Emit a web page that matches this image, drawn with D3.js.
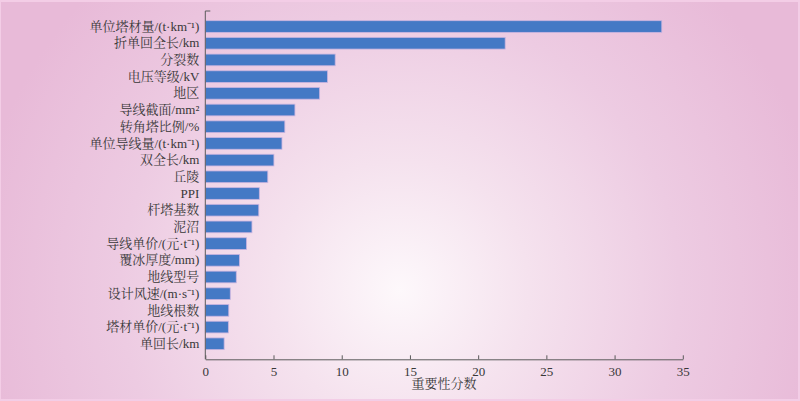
<!DOCTYPE html>
<html><head><meta charset="utf-8">
<script src="https://cdn.jsdelivr.net/npm/d3@7"></script>
<style>html,body{margin:0;padding:0;overflow:hidden;background:#e9bcd9}</style>
</head><body>
<script>
const categories = ["单位塔材量/(t·km⁻¹)","折单回全长/km","分裂数","电压等级/kV","地区","导线截面/mm²","转角塔比例/%","单位导线量/(t·km⁻¹)","双全长/km","丘陵","PPI","杆塔基数","泥沼","导线单价/(元·t⁻¹)","覆冰厚度/mm)","地线型号","设计风速/(m·s⁻¹)","地线根数","塔材单价/(元·t⁻¹)","单回长/km"];
const values = [33.46,21.98,9.52,8.96,8.38,6.57,5.83,5.62,5.03,4.58,3.96,3.92,3.42,3.02,2.5,2.27,1.83,1.72,1.69,1.38];
const xTicks = [0,5,10,15,20,25,30,35];
const xTitle = "重要性分数";

const W = 800, H = 401;
const svg = d3.select("body").append("svg").attr("width", W).attr("height", H);
const defs = svg.append("defs");
const g = defs.append("radialGradient").attr("id","bg").attr("gradientUnits","userSpaceOnUse")
  .attr("cx",400).attr("cy",290).attr("r",430);
[[0,"#fdf8fb"],[0.3,"#f5e2ee"],[0.65,"#edcbe2"],[1,"#e8bad8"]].forEach(s=>g.append("stop").attr("offset",s[0]).attr("stop-color",s[1]));
svg.append("rect").attr("width",W).attr("height",H).attr("fill","#f3cde6");
svg.append("rect").attr("x",1).attr("y",2).attr("width",W-3).attr("height",H-4).attr("fill","url(#bg)");

const x0 = 205.3, y0 = 11, y1 = 359.3;
const x = d3.scaleLinear().domain([0,35]).range([x0, 682.8]);
const y = d3.scaleBand().domain(categories).range([y0, y1]).paddingInner(0.3).paddingOuter(0.58);

const serif = "'Liberation Serif','Times New Roman','Noto Serif CJK SC','Noto Sans CJK SC',serif";
const fs = 13;

svg.append("g").selectAll("rect").data(values).join("rect")
  .attr("x", x(0)).attr("y", (d,i)=>y(categories[i]))
  .attr("width", d=>x(d)-x(0)).attr("height", y.bandwidth())
  .attr("fill","#4479c5").attr("stroke","#c9b4e0").attr("stroke-width",0.8);

// y axis
const ya = svg.append("g").attr("transform",`translate(${x0},0)`)
  .call(d3.axisLeft(y).tickSize(0).tickPadding(6));
ya.select(".domain").remove();
ya.selectAll("text").attr("font-family",serif).attr("font-size",fs).attr("fill","#383838");
svg.append("path").attr("d",`M${x0+5},${y0}H${x0}V${y1}`).attr("fill","none").attr("stroke","#5a5a5a").attr("stroke-width",1);

// x axis
const xa = svg.append("g").attr("transform",`translate(0,${y1})`)
  .call(d3.axisBottom(x).tickValues(xTicks).tickSizeInner(-4).tickSizeOuter(0).tickPadding(7));
xa.select(".domain").attr("stroke","#5a5a5a");
xa.selectAll(".tick line").attr("stroke","#5a5a5a");
xa.selectAll("text").attr("font-family",serif).attr("font-size",fs).attr("fill","#383838");

svg.append("text").attr("x", x(17.5)).attr("y", 388).attr("text-anchor","middle")
  .attr("font-family",serif).attr("font-size",fs).attr("fill","#383838").text(xTitle);
</script>
</body></html>
